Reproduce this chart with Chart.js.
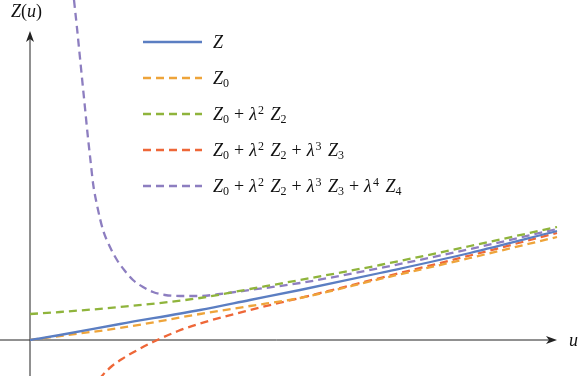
<!DOCTYPE html>
<html>
<head>
<meta charset="utf-8">
<script src="https://cdn.jsdelivr.net/npm/chart.js@4"></script>
<style>
  body { margin: 0; background: #fff; }
  #wrap { position: relative; width: 581px; height: 376px; }
  canvas { position: absolute; left: 0; top: 0; }
  .math { position: absolute; font-family: "Liberation Serif"; font-size: 18px; color: #111; white-space: nowrap; line-height: 1; }
  .math i { font-style: italic; }
  .math sub, .math sup { font-size: 12px; line-height: 0; }
  .math sup { vertical-align: 6px; margin-left: 1px; margin-right: 2px; }
  .math sub { vertical-align: -3px; }
  .math .op { margin: 0 5px; }
  #legend { position: absolute; left: 0; top: 0; }
  .row { position: absolute; left: 143px; height: 20px; }
  .row canvas { position: absolute; left: 0; top: 0; }
  .row .math { left: 70px; top: 1px; }
</style>
</head>
<body>
<div id="wrap">
  <canvas id="grafico" width="581" height="376"></canvas>
  <div id="legend"></div>
  <div class="math" style="left:11px;top:2px;"><i>Z</i>(<i>u</i>)</div>
  <div class="math" style="left:569px;top:331px;"><i>u</i></div>
</div>
<script>
// dados
const u = [0, 0.3, 0.9, 1.7, 2.2, 2.7, 3.5, 4.4, 5.27];
const zExato = [0, 0.05, 0.16, 0.30, 0.40, 0.50, 0.67, 0.87, 1.09];
const z0 = [0, 0.04, 0.12, 0.26, 0.34, 0.42, 0.61, 0.82, 1.03];
const z02 = [0.26, 0.28, 0.33, 0.42, 0.51, 0.60, 0.75, 0.94, 1.13];

const uVermelho = [0.62, 0.72, 0.82, 0.92, 1.02, 1.23, 1.48, 1.70, 2.2, 2.7, 3.5, 4.4, 5.27];
const z023 = [-0.50, -0.36, -0.26, -0.19, -0.13, -0.02, 0.09, 0.165, 0.30, 0.42, 0.62, 0.845, 1.07];

const uRoxo = [0.44, 0.47, 0.51, 0.55, 0.58, 0.61, 0.63, 0.67, 0.73, 0.80, 0.87, 0.95, 1.03, 1.13, 1.23, 1.35, 1.50, 1.70, 1.90, 2.2, 2.7, 3.5, 4.4, 5.27];
const z0234 = [3.40, 3.12, 2.72, 2.32, 2.02, 1.75, 1.57, 1.35, 1.10, 0.93, 0.80, 0.69, 0.60, 0.53, 0.48, 0.45, 0.44, 0.44, 0.46, 0.50, 0.57, 0.72, 0.91, 1.11];

const mais = '<span class="op">+</span>';
const rotulos = [
  '<i>Z</i>',
  '<i>Z</i><sub>0</sub>',
  '<i>Z</i><sub>0</sub>' + mais + '<i>λ</i><sup>2</sup> <i>Z</i><sub>2</sub>',
  '<i>Z</i><sub>0</sub>' + mais + '<i>λ</i><sup>2</sup> <i>Z</i><sub>2</sub>' + mais + '<i>λ</i><sup>3</sup> <i>Z</i><sub>3</sub>',
  '<i>Z</i><sub>0</sub>' + mais + '<i>λ</i><sup>2</sup> <i>Z</i><sub>2</sub>' + mais + '<i>λ</i><sup>3</sup> <i>Z</i><sub>3</sub>' + mais + '<i>λ</i><sup>4</sup> <i>Z</i><sub>4</sub>'
];
const cores = ['#5b7ec2', '#eea43a', '#8fb43c', '#ee6738', '#8d7ec0'];
const tracejado = [8, 5];

function pontos(xs, ys) {
  return xs.map((x, i) => ({ x: x, y: ys[i] }));
}

const series = [
  pontos(u, zExato),
  pontos(u, z0),
  pontos(u, z02),
  pontos(uVermelho, z023),
  pontos(uRoxo, z0234)
];

const eixos = {
  id: 'eixos',
  beforeDatasetsDraw(chart) {
    const ctx = chart.ctx;
    const x = chart.scales.x, y = chart.scales.y;
    const x0 = x.getPixelForValue(0), y0 = y.getPixelForValue(0);
    const pontaX = 557, pontaY = 31;
    ctx.save();
    ctx.strokeStyle = '#222';
    ctx.fillStyle = '#222';
    ctx.lineWidth = 1;
    ctx.beginPath();
    ctx.moveTo(0, y0); ctx.lineTo(pontaX - 4, y0);
    ctx.moveTo(x0, chart.height); ctx.lineTo(x0, pontaY + 4);
    ctx.stroke();
    // setas
    ctx.beginPath();
    ctx.moveTo(pontaX, y0); ctx.lineTo(pontaX - 11, y0 - 4); ctx.lineTo(pontaX - 8, y0); ctx.lineTo(pontaX - 11, y0 + 4); ctx.closePath();
    ctx.fill();
    ctx.beginPath();
    ctx.moveTo(x0, pontaY); ctx.lineTo(x0 - 4, pontaY + 11); ctx.lineTo(x0, pontaY + 8); ctx.lineTo(x0 + 4, pontaY + 11); ctx.closePath();
    ctx.fill();
    ctx.restore();
  }
};

const legendaHtml = {
  id: 'legendaHtml',
  afterUpdate(chart) {
    const box = document.getElementById('legend');
    box.innerHTML = '';
    chart.data.datasets.forEach((ds, i) => {
      const row = document.createElement('div');
      row.className = 'row';
      row.style.top = (32 + i * 36) + 'px';
      const c = document.createElement('canvas');
      c.width = 62; c.height = 20;
      const g = c.getContext('2d');
      g.strokeStyle = ds.borderColor;
      g.lineWidth = ds.borderWidth;
      g.setLineDash(ds.borderDash || []);
      g.beginPath(); g.moveTo(0, 10); g.lineTo(59, 10); g.stroke();
      const t = document.createElement('div');
      t.className = 'math';
      t.innerHTML = ds.label;
      row.appendChild(c);
      row.appendChild(t);
      box.appendChild(row);
    });
  }
};

new Chart(document.getElementById('grafico').getContext('2d'), {
  type: 'line',
  data: {
    datasets: series.map((s, i) => ({
      label: rotulos[i],
      data: s,
      borderColor: cores[i],
      borderWidth: 2.3,
      borderDash: i === 0 ? [] : tracejado,
      pointRadius: 0,
      fill: false,
      cubicInterpolationMode: 'monotone'
    }))
  },
  options: {
    responsive: false,
    animation: false,
    layout: { padding: 0 },
    scales: {
      x: { type: 'linear', min: -0.3, max: 5.51, display: false },
      y: { type: 'linear', min: -0.36, max: 3.40, display: false }
    },
    plugins: {
      legend: { display: false },
      tooltip: { enabled: false }
    }
  },
  plugins: [eixos, legendaHtml]
});
</script>
</body>
</html>
